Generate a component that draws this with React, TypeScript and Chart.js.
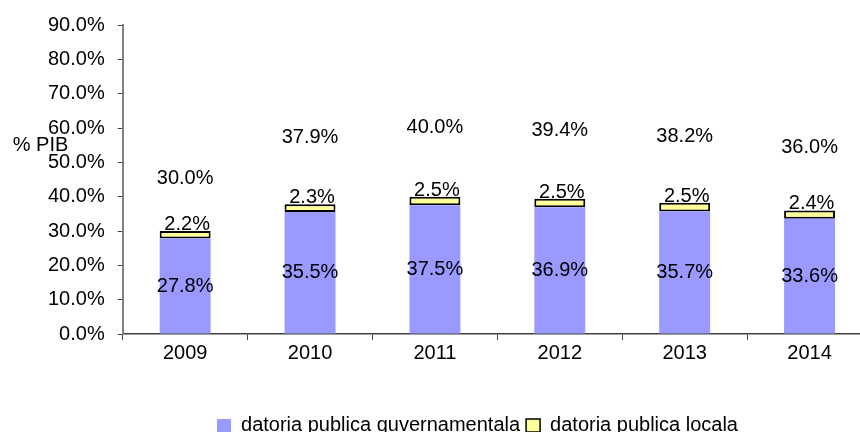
import React, { useEffect, useRef } from "react";
import { Chart, registerables } from "chart.js";

Chart.register(...registerables);

const categories = ["2009", "2010", "2011", "2012", "2013", "2014"];
const govDebt = [27.8, 35.5, 37.5, 36.9, 35.7, 33.6];
const localDebt = [2.2, 2.3, 2.5, 2.5, 2.5, 2.4];
const totalDebt = [30.0, 37.9, 40.0, 39.4, 38.2, 36.0];
const yTicks = [0, 10, 20, 30, 40, 50, 60, 70, 80, 90];
const seriesNames = ["datoria publica guvernamentala", "datoria publica locala"];
const axisTitle = "% PIB";

const FONT = "'Liberation Sans', Arial, sans-serif";
const FS = 20;

const labelPlugin = {
  id: "valueLabels",
  afterLayout(chart: any) {
    if (chart.legend) {
      chart.legend.left += 24;
      chart.legend.right += 24;
    }
  },
  afterDatasetsDraw(chart: any) {
    const ctx = chart.ctx;
    ctx.save();
    ctx.font = `${FS}px ${FONT}`;
    ctx.fillStyle = "#000";
    ctx.textAlign = "center";
    const m0 = chart.getDatasetMeta(0);
    m0.data.forEach((el: any, i: number) => {
      const c = el.getCenterPoint();
      ctx.textBaseline = "middle";
      ctx.fillText(govDebt[i].toFixed(1) + "%", c.x, c.y);
    });
    const m1 = chart.getDatasetMeta(1);
    m1.data.forEach((el: any, i: number) => {
      ctx.textBaseline = "alphabetic";
      ctx.fillText(localDebt[i].toFixed(1) + "%", el.x + 2, el.y - 1);
    });
    const m2 = chart.getDatasetMeta(2);
    m2.data.forEach((el: any, i: number) => {
      ctx.textBaseline = "middle";
      ctx.fillText(totalDebt[i].toFixed(1) + "%", el.x, el.y - 1);
    });
    const ys = chart.scales.y;
    ctx.textAlign = "left";
    ctx.textBaseline = "middle";
    ctx.fillText(axisTitle, chart.chartArea.left - 110, ys.getPixelForValue(55));
    ctx.restore();
  },
};

export default function App() {
  const ref = useRef<HTMLCanvasElement>(null);
  useEffect(() => {
    if (!ref.current) return;
    Chart.defaults.font.family = FONT;
    Chart.defaults.font.size = FS;
    Chart.defaults.color = "#000";
    const chart = new Chart(ref.current, {
      type: "bar",
      data: {
        labels: categories,
        datasets: [
          {
            label: seriesNames[0],
            data: govDebt,
            backgroundColor: "#9999FF",
            borderWidth: 0,
            stack: "s",
          } as any,
          {
            label: seriesNames[1],
            data: localDebt,
            backgroundColor: "#FFFF99",
            borderColor: "#000",
            borderWidth: 2,
            borderSkipped: false,
            stack: "s",
          } as any,
          {
            type: "line",
            label: "total",
            data: totalDebt,
            yAxisID: "y2",
            showLine: false,
            pointRadius: 0,
            borderWidth: 0,
          } as any,
        ],
      },
      options: {
        animation: false,
        responsive: false,
        events: [],
        layout: { padding: { left: 35, right: 8, top: 24, bottom: -13.5 } },
        datasets: { bar: { barPercentage: 0.408, categoryPercentage: 1 } },
        scales: {
          x: {
            stacked: true,
            grid: {
              drawOnChartArea: false,
              drawTicks: true,
              tickLength: 6,
              color: "#404040",
              offset: true,
            },
            border: { color: "#404040", width: 1.5 },
            ticks: { padding: 1 },
            afterFit: (s: any) => {
              s.height = 75.5;
            },
          },
          y: {
            stacked: true,
            min: 0,
            max: 90,
            afterBuildTicks: (s: any) => {
              s.ticks = yTicks.map((v) => ({ value: v }));
            },
            grid: {
              drawOnChartArea: false,
              drawTicks: true,
              tickLength: 5,
              color: "#404040",
            },
            border: { color: "#808080", width: 2 },
            ticks: {
              padding: 13,
              callback: (v: any) => Number(v).toFixed(1) + "%",
            },
          },
          y2: {
            display: false,
            min: 0,
            max: 60,
            stacked: false,
          },
        },
        plugins: {
          legend: {
            position: "bottom",
            labels: {
              boxWidth: 14,
              boxHeight: 13,
              padding: 6,
              filter: (item: any) => item.datasetIndex < 2,
              generateLabels: (chart: any) => {
                const items = Chart.defaults.plugins.legend.labels.generateLabels(chart);
                return items.map((it: any) =>
                  it.datasetIndex === 1 ? { ...it, lineWidth: 1.5 } : it
                );
              },
            },
          },
          tooltip: { enabled: false },
        },
      },
      plugins: [labelPlugin],
    });
    return () => chart.destroy();
  }, []);
  return (
    <div
      style={{
        position: "absolute",
        left: 0,
        top: 0,
        width: 860,
        height: 432,
        overflow: "hidden",
        background: "#fff",
      }}
    >
      <canvas ref={ref} width={880} height={432} style={{ width: 880, height: 432, display: "block" }} />
    </div>
  );
}
